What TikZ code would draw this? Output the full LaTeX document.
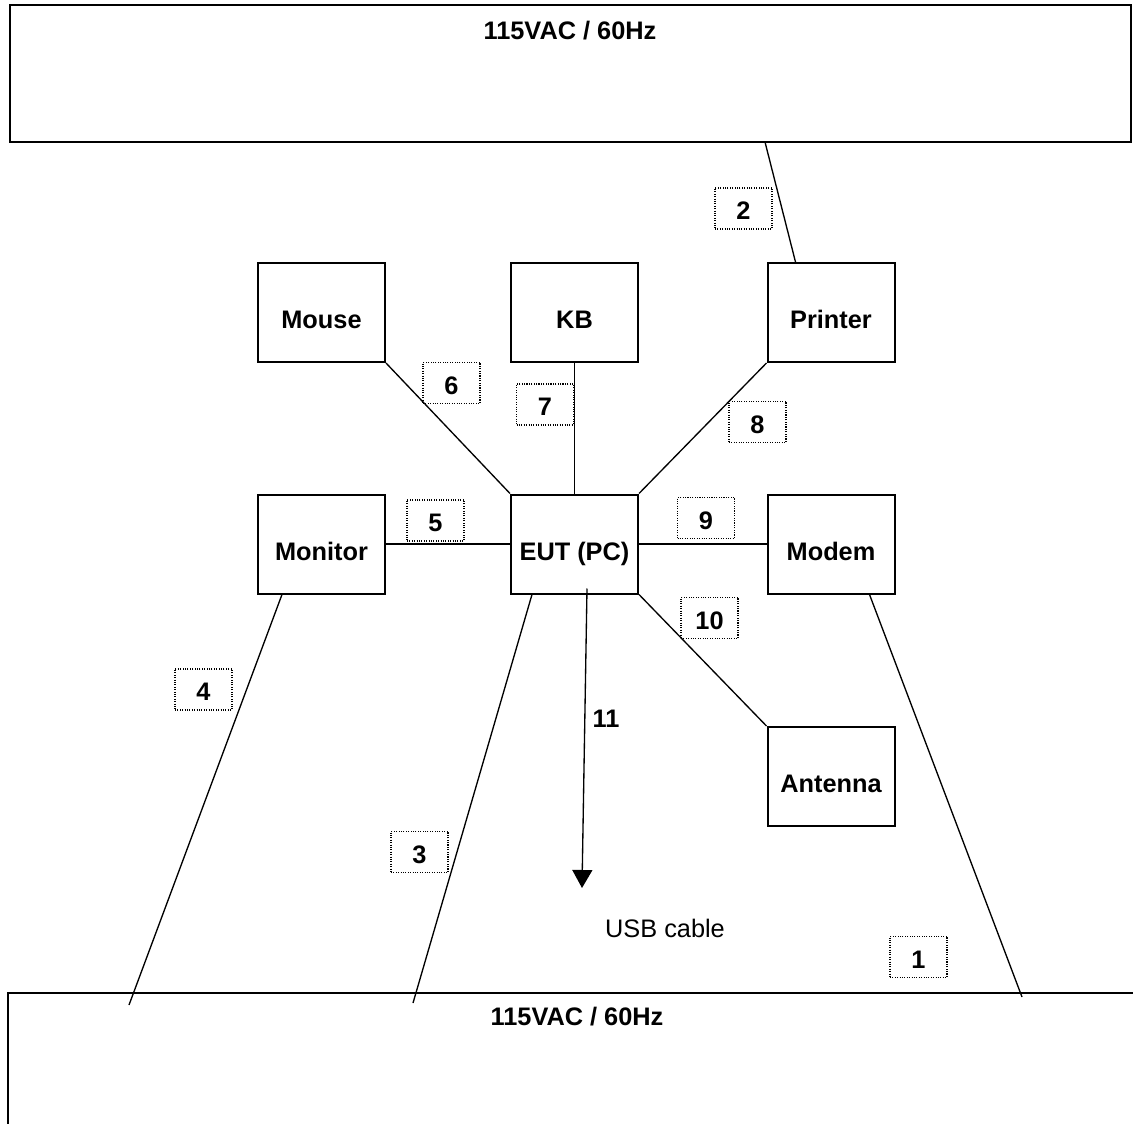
\documentclass[tikz,border=0pt]{standalone}
\usepackage{fontspec}
\setmainfont{Liberation Sans}
\usetikzlibrary{arrows.meta,calc}

\begin{document}
\begin{tikzpicture}[x=0.75pt, y=-0.75pt,
    devbox/.style={draw, line width=1.5pt, minimum width=95.25pt, minimum height=74.25pt, inner sep=0pt, text height=24.5pt, text depth=0pt, font=\bfseries\fontsize{19}{22}\selectfont},
    wire/.style={line width=1pt},
    cabletag/.style={draw, densely dotted, line width=0.8pt, minimum width=42.75pt, minimum height=30.75pt, inner sep=0pt, text height=17pt, text depth=0pt, font=\bfseries\fontsize{19}{22}\selectfont},
    caption/.style={anchor=base, inner sep=0pt, font=\bfseries\fontsize{19}{22}\selectfont}]

\useasboundingbox (0,0) rectangle (1133,1124);

% Mains supply (top and bottom)
\node[draw, line width=1.5pt, minimum width=840.75pt, minimum height=102.75pt] (acTop) at (570.5,73.5) {};
\node[caption] (acTopText) at (570,39.5) {115VAC / 60Hz};
\draw[line width=1.5pt] (1140,993) -- (8,993) -- (8,1130);
\node[caption] (acBotText) at (577,1025) {115VAC / 60Hz};

% Devices
\node[devbox] (mouse) at (321.5,312.5) {Mouse};
\node[devbox] (kb) at (574.5,312.5) {KB};
\node[devbox] (printer) at (831,312.5) {Printer};
\node[devbox] (monitor) at (321.5,544) {Monitor};
\node[devbox] (eut) at (574.5,544) {EUT (PC)};
\node[devbox] (modem) at (831,544) {Modem};
\node[devbox] (antenna) at (831,776.5) {Antenna};

% Cable ends
\coordinate (p1) at (1022,997);
\coordinate (p2) at (765,142);
\coordinate (p3) at (413,1003);
\coordinate (p4) at (129,1005);
\coordinate (usbEnd) at (582,888);

% Cables
\draw[wire] (mouse.south east) -- (eut.north west);
\draw[wire] (kb.south) -- (eut.north);
\draw[wire] (printer.south west) -- (eut.north east);
\draw[wire] (monitor.east) -- (eut.west);
\draw[wire] (eut.east) -- (modem.west);
\draw[wire] (eut.south east) -- (antenna.north west);
\draw[wire] ($(printer.north west)+(29,0)$) -- (p2);
\draw[wire] ($(monitor.south west)+(25,0)$) -- (p4);
\draw[wire] ($(eut.south west)+(22,0)$) -- (p3);
\draw[wire] ($(modem.south west)+(103,0)$) -- (p1);
\draw[wire, -{Triangle[width=15pt,length=13.5pt]}] ($(eut.south)+(12.5,-6)$) -- (usbEnd);

% Cable numbers
\node[cabletag] (c1) at (918.5,957) {1};
\node[cabletag] (c2) at (743.5,208.5) {2};
\node[cabletag] (c3) at (419.5,852) {3};
\node[cabletag] (c4) at (203.5,689.5) {4};
\node[cabletag] (c5) at (435.5,520.5) {5};
\node[cabletag] (c6) at (451.5,383) {6};
\node[cabletag] (c7) at (545,404.5) {7};
\node[cabletag] (c8) at (757.5,422) {8};
\node[cabletag] (c9) at (706,518) {9};
\node[cabletag] (c10) at (709.5,618) {10};
\node[caption] (c11) at (606,727) {11};
\node[caption, font=\fontsize{19}{22}\selectfont] (usb) at (665,937) {USB cable};

\end{tikzpicture}
\end{document}
